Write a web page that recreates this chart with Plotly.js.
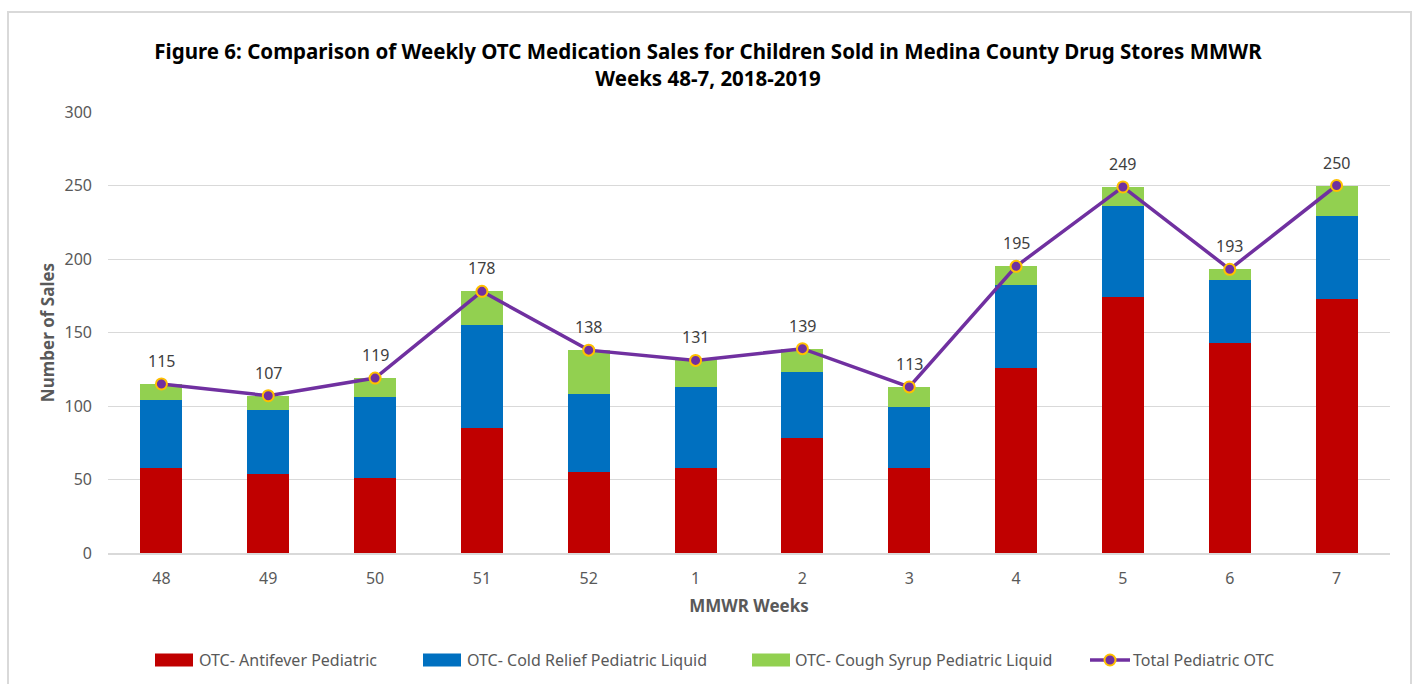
<!DOCTYPE html>
<html>
<head>
<meta charset="utf-8">
<script src="https://cdn.plot.ly/plotly-3.0.1.min.js"></script>
<style>
html,body{margin:0;padding:0;background:#fff;}
#wrap{position:relative;width:1416px;height:684px;overflow:hidden;}
#chart{width:1416px;height:684px;}
#frame{position:absolute;left:7px;top:11px;width:1401px;height:700px;border:2px solid #d9d9d9;pointer-events:none;}
</style>
</head>
<body>
<div id="wrap"><div id="chart"></div><div id="frame"></div></div>
<script>
const weeks = ["48","49","50","51","52","1","2","3","4","5","6","7"];
const antifever = [58,54,51,85,55,58,78,58,126,174,143,173];
const coldRelief = [46,43,55,70,53,55,45,41,56,62,43,56];
const coughSyrup = [11,10,13,23,30,18,16,14,13,13,7,21];
const total = [115,107,119,178,138,131,139,113,195,249,193,250];
const seriesNames = ["OTC- Antifever Pediatric","OTC- Cold Relief Pediatric Liquid","OTC- Cough Syrup Pediatric Liquid","Total Pediatric OTC"];
const seriesColors = ["#C00000","#0070C0","#92D050","#7030A0"];

const font = "Noto Sans, sans-serif";
const L = 108, R = 1390, T = 112, B = 553;
const px = v => (v - L) / (R - L);
const py = v => (B - v) / (B - T);

const traces = [
  {type:'bar', name:seriesNames[0], x:weeks, y:antifever, marker:{color:seriesColors[0]}, showlegend:false},
  {type:'bar', name:seriesNames[1], x:weeks, y:coldRelief, marker:{color:seriesColors[1]}, showlegend:false},
  {type:'bar', name:seriesNames[2], x:weeks, y:coughSyrup, marker:{color:seriesColors[2]}, showlegend:false},
  {type:'scatter', mode:'lines+markers', name:seriesNames[3], x:weeks, y:total, showlegend:false,
   line:{color:seriesColors[3], width:3.5},
   marker:{color:seriesColors[3], size:11, line:{color:'#FFC000', width:2}}, cliponaxis:false}
];

const annotations = weeks.map((w,i) => ({
  x:i, y:total[i], xref:'x', yref:'y', text:String(total[i]), showarrow:false,
  yshift:23, font:{size:16, color:'#404040', family:font}
}));

// custom legend
const shapes = [];
const legY = 660;
const items = [
  {sx0:155, sx1:193, tx:197},
  {sx0:423, sx1:461, tx:465},
  {sx0:752, sx1:790, tx:793},
  {sx0:1090, sx1:1130, tx:1131}
];
items.forEach((it,i) => {
  if (i < 3) {
    shapes.push({type:'rect', xref:'paper', yref:'paper', x0:px(it.sx0), x1:px(it.sx1),
      y0:py(legY+6.5), y1:py(legY-6.5), fillcolor:seriesColors[i], line:{width:0}});
  } else {
    shapes.push({type:'line', xref:'paper', yref:'paper', x0:px(it.sx0), x1:px(it.sx1),
      y0:py(legY), y1:py(legY), line:{color:seriesColors[3], width:3.5}});
    const cx = (it.sx0+it.sx1)/2;
    shapes.push({type:'circle', xref:'paper', yref:'paper', x0:px(cx-5.5), x1:px(cx+5.5),
      y0:py(legY+5.5), y1:py(legY-5.5), fillcolor:seriesColors[3], line:{color:'#FFC000', width:2}});
  }
  annotations.push({xref:'paper', yref:'paper', x:px(it.tx), y:py(legY), xanchor:'left', yanchor:'middle',
    text:seriesNames[i], showarrow:false, font:{size:16, color:'#595959', family:font}});
});

const layout = {
  width:1416, height:684,
  barmode:'stack', bargap:0.607,
  paper_bgcolor:'#fff', plot_bgcolor:'#fff',
  margin:{l:L, r:1416-R, t:T, b:684-B},
  font:{family:font, color:'#595959'},
  title:{text:'<b>Figure 6: Comparison of Weekly OTC Medication Sales for Children Sold in Medina County Drug Stores MMWR<br>Weeks 48-7, 2018-2019</b>',
         font:{size:20.5, color:'#000', family:font}, x:0.5, xref:'container', yref:'container', y:1-59/684, yanchor:'middle'},
  xaxis:{type:'category', categoryorder:'array', categoryarray:weeks, range:[-0.5, weeks.length-0.5],
         automargin:false, tickfont:{size:16, color:'#595959'}, showline:true, linecolor:'#d9d9d9', linewidth:1.5,
         ticks:'', ticklabelstandoff:10, title:{text:'<b>MMWR Weeks</b>', font:{size:17, color:'#595959'}, standoff:12}},
  yaxis:{range:[0,300], dtick:50, automargin:false, tickfont:{size:16, color:'#595959'}, gridcolor:'#d9d9d9', gridwidth:1,
         zeroline:false, ticks:'', showline:false, ticklabelstandoff:15,
         title:{text:'<b>Number of Sales</b>', font:{size:17, color:'#595959'}, standoff:5}},
  showlegend:false,
  shapes:shapes,
  annotations:annotations
};
Plotly.newPlot('chart', traces, layout, {displayModeBar:false, staticPlot:true});
</script>
</body>
</html>
